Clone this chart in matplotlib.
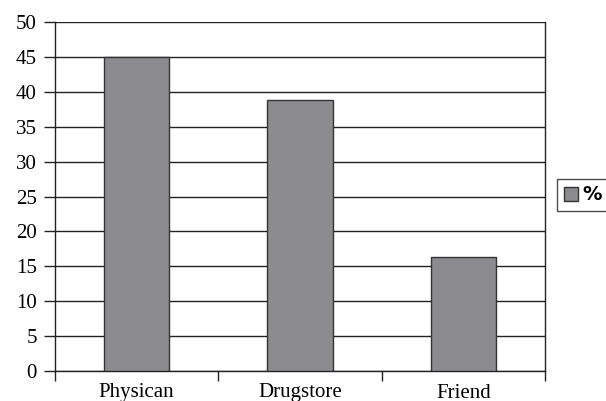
import matplotlib
matplotlib.use("Agg")
import matplotlib.pyplot as plt
import numpy as np

categories = ["Physican", "Drugstore", "Friend"]
values = [45, 38.8, 16.3]
series_name = "%"
yticks = [0, 5, 10, 15, 20, 25, 30, 35, 40, 45, 50]

plt.rcParams['font.family'] = ['Liberation Serif', 'DejaVu Serif']

fig = plt.figure(figsize=(6.06, 4.01), dpi=100)
ax = fig.add_axes([55/606, 30/401, 490/606, 349/401])

x = np.arange(len(categories))
ax.bar(x, values, width=0.4, color="#8c8c90", edgecolor="#333333", linewidth=1.0,
       label=series_name, zorder=3)

ax.set_xlim(-0.5, len(categories) - 0.5)
ax.set_ylim(0, 50)
ax.set_yticks(yticks)
ax.yaxis.grid(True, color="#222222", linewidth=1.0, zorder=0)
ax.set_axisbelow(True)

ax.set_xticks(np.arange(-0.5, len(categories), 1.0))
ax.set_xticklabels([])
ax.set_xticks(x, minor=True)
ax.set_xticklabels(categories, minor=True, fontsize=15)
ax.tick_params(axis='x', which='minor', length=0, pad=9)
ax.tick_params(axis='x', which='major', length=7, width=1.0, color="#222222", direction='out')
ax.tick_params(axis='y', length=8, width=1.0, color="#222222", labelsize=15, pad=5)

for s in ax.spines.values():
    s.set_color("#222222")
    s.set_linewidth(1.0)
ax.spines['top'].set_visible(False)

leg = fig.legend(loc='center left', bbox_to_anchor=(557/606, 1 - 195/401),
                 borderaxespad=0,
                 frameon=True, fancybox=False, edgecolor="#222222",
                 prop={'weight': 'bold', 'size': 14, 'family': ['DejaVu Sans']},
                 handlelength=0.75, handleheight=0.75, handletextpad=0.2,
                 borderpad=0.35)
leg.get_frame().set_linewidth(1.0)

fig.savefig("out.png", dpi=100)
